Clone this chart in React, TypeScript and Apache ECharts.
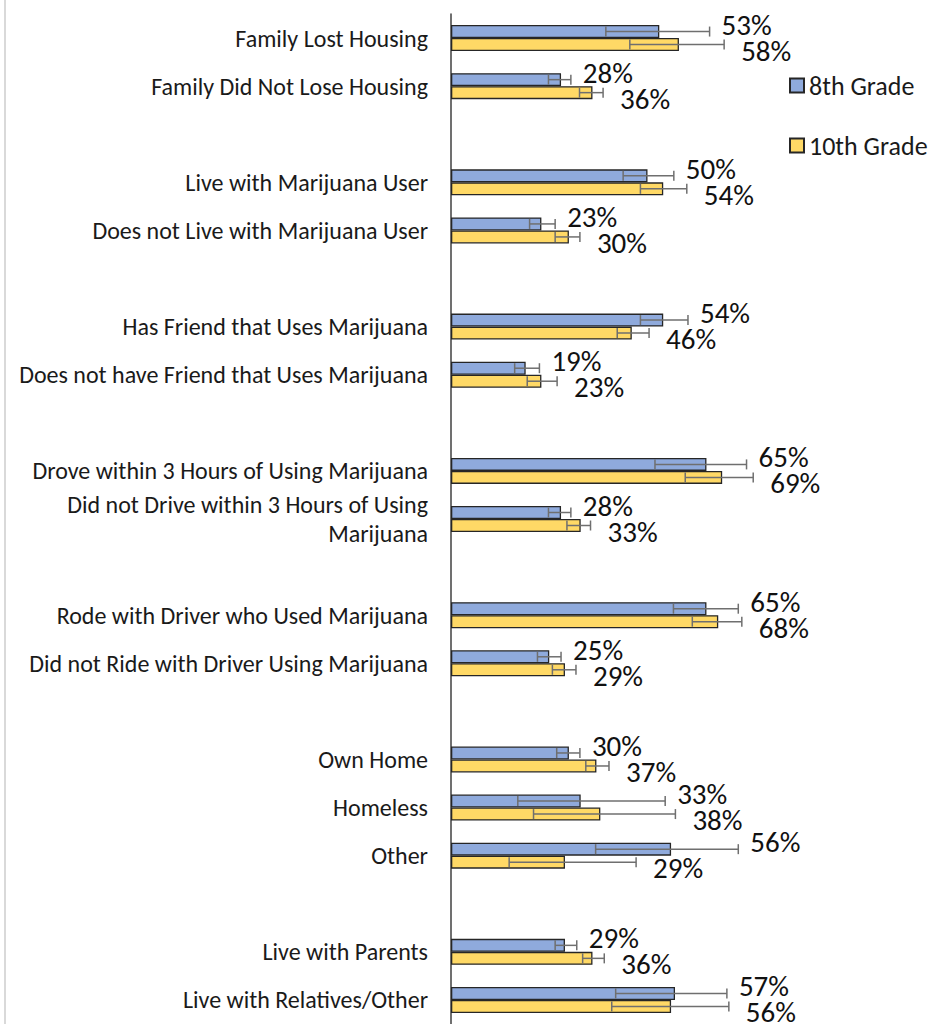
import React, { useEffect, useRef } from "react";
import * as echarts from "echarts";

const categories = [
  "Family Lost Housing",
  "Family Did Not Lose Housing",
  "",
  "Live with Marijuana User",
  "Does not Live with Marijuana User",
  "",
  "Has Friend that Uses Marijuana",
  "Does not have Friend that Uses Marijuana",
  "",
  "Drove within 3 Hours of Using Marijuana",
  "Did not Drive within 3 Hours of Using\nMarijuana",
  "",
  "Rode with Driver who Used Marijuana",
  "Did not Ride with Driver Using Marijuana",
  "",
  "Own Home",
  "Homeless",
  "Other",
  "",
  "Live with Parents",
  "Live with Relatives/Other",
];

const grade8 = [53, 28, null, 50, 23, null, 54, 19, null, 65, 28, null, 65, 25, null, 30, 33, 56, null, 29, 57];
const grade8Low = [39.4, 24.8, null, 43.8, 20.0, null, 48.2, 16.2, null, 51.9, 24.8, null, 56.6, 22.0, null, 26.9, 17.0, 36.8, null, 26.5, 41.9];
const grade8High = [65.8, 30.5, null, 56.7, 26.5, null, 60.3, 22.5, null, 75.2, 30.5, null, 73.1, 28.0, null, 32.8, 54.5, 73.1, null, 32.0, 70.2];

const grade10 = [58, 36, null, 54, 30, null, 46, 23, null, 69, 33, null, 68, 29, null, 37, 38, 29, null, 36, 56];
const grade10Low = [45.5, 32.7, null, 48.2, 26.5, null, 42.3, 19.4, null, 59.6, 29.5, null, 61.4, 25.8, null, 34.3, 21.0, 14.8, null, 33.5, 40.9];
const grade10High = [69.5, 38.7, null, 60.0, 32.8, null, 50.4, 27.0, null, 76.9, 35.5, null, 74.0, 31.8, null, 40.2, 57.1, 47.1, null, 39.0, 70.7];

const seriesNames = ["8th Grade", "10th Grade"];

const BLUE = "#8FAADC";
const YELLOW = "#FFD966";
const FONT = "Carlito, Lato, 'Noto Sans', sans-serif";

function errorData(vals: (number | null)[], lo: (number | null)[], hi: (number | null)[]) {
  const out: any[] = [];
  vals.forEach((v, i) => {
    if (v == null) return;
    out.push([i, lo[i], hi[i], v]);
  });
  return out;
}

function makeRender(offset: number, labelGap: number, labelDy: number) {
  return (params: any, api: any) => {
    const cat = api.value(0);
    const lo = api.value(1);
    const hi = api.value(2);
    const v = api.value(3);
    const pLo = api.coord([lo, cat]);
    const pHi = api.coord([hi, cat]);
    const y = pLo[1] + offset;
    const cap = 5;
    const stroke = { stroke: "#6f6f6f", lineWidth: 1.5 };
    return {
      type: "group",
      children: [
        { type: "line", shape: { x1: pLo[0], y1: y, x2: pHi[0], y2: y }, style: stroke },
        { type: "line", shape: { x1: pLo[0], y1: y - cap, x2: pLo[0], y2: y + cap }, style: stroke },
        { type: "line", shape: { x1: pHi[0], y1: y - cap, x2: pHi[0], y2: y + cap }, style: stroke },
        {
          type: "text",
          style: {
            text: v + "%",
            x: pHi[0] + labelGap,
            y: y + labelDy,
            fill: "#111111",
            fontSize: 29,
            lineHeight: 22,
            fontFamily: FONT,
            align: "left",
            verticalAlign: "middle",
          },
        },
      ],
    };
  };
}

export default function App() {
  const ref = useRef<HTMLDivElement>(null);
  useEffect(() => {
    if (!ref.current) return;
    const chart = echarts.init(ref.current, null, { renderer: "svg" });
    chart.setOption({
      animation: false,
      backgroundColor: "#ffffff",
      grid: { left: 451, top: 14, width: 393, height: 1012 },
      legend: {
        data: seriesNames,
        orient: "vertical",
        left: 784,
        top: 67,
        itemWidth: 14,
        itemHeight: 14,
        itemGap: 33,
        icon: "rect",
        textStyle: { fontSize: 26, fontFamily: FONT, color: "#1a1a1a", lineHeight: 27 },
      },
      xAxis: { type: "value", min: 0, max: 100, show: false },
      yAxis: {
        type: "category",
        inverse: true,
        data: categories,
        axisLine: { show: true, lineStyle: { color: "#404040", width: 1.5 } },
        axisTick: { show: false },
        axisLabel: {
          margin: 23,
          fontSize: 24,
          fontFamily: FONT,
          color: "#1a1a1a",
          lineHeight: 29,
          align: "right",
        },
        splitLine: { show: false },
      },
      graphic: [
        {
          type: "line",
          shape: { x1: 5, y1: 0, x2: 5, y2: 1024 },
          style: { stroke: "#d9d9d9", lineWidth: 2 },
          silent: true,
        },
      ],
      series: [
        {
          name: seriesNames[0],
          type: "bar",
          data: grade8,
          barWidth: 13,
          barGap: "0%",
          itemStyle: { color: BLUE, borderColor: "#262626", borderWidth: 1.3 },
        },
        {
          name: seriesNames[1],
          type: "bar",
          data: grade10,
          barWidth: 13,
          barGap: "0%",
          itemStyle: { color: YELLOW, borderColor: "#262626", borderWidth: 1.3 },
        },
        {
          type: "custom",
          name: "err8",
          clip: false,
          silent: true,
          z: 5,
          encode: { x: [1, 2], y: 0 },
          data: errorData(grade8, grade8Low, grade8High),
          renderItem: makeRender(-6.5, 12, -7),
        },
        {
          type: "custom",
          name: "err10",
          clip: false,
          silent: true,
          z: 5,
          encode: { x: [1, 2], y: 0 },
          data: errorData(grade10, grade10Low, grade10High),
          renderItem: makeRender(6.5, 17, 6),
        },
      ],
    });
    return () => chart.dispose();
  }, []);
  return (
    <div
      ref={ref}
      style={{ position: "absolute", left: 0, top: 0, width: 944, height: 1024 }}
    />
  );
}
